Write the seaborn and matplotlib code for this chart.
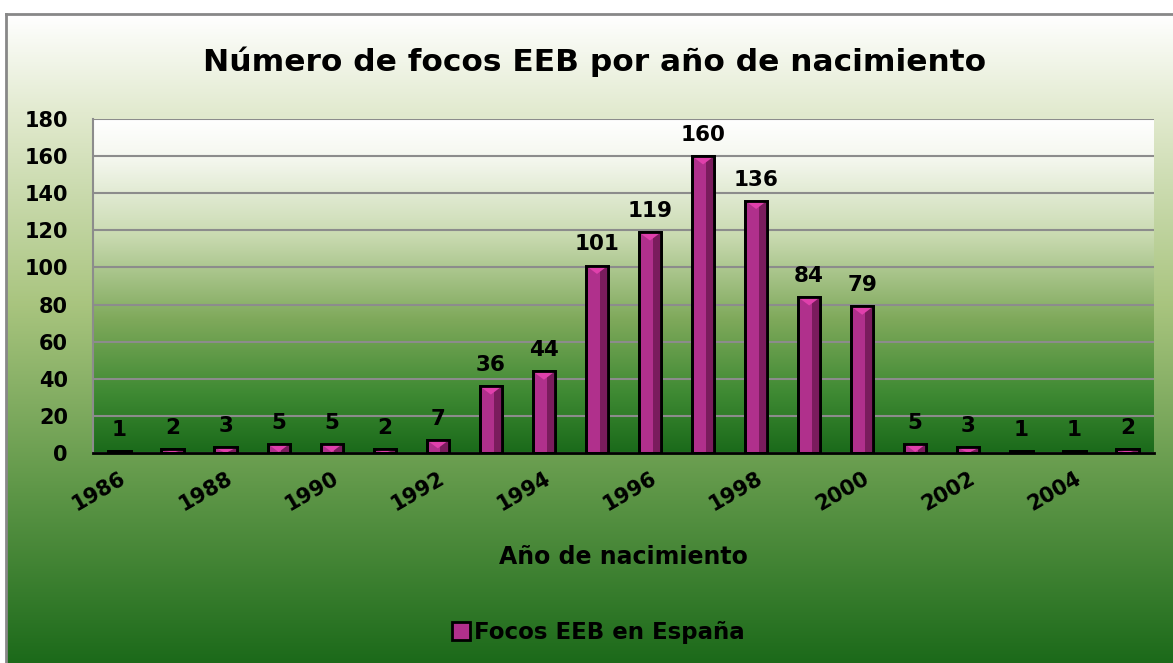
import numpy as np
import matplotlib
matplotlib.use("Agg")
import matplotlib.pyplot as plt
import seaborn as sns
from matplotlib.colors import LinearSegmentedColormap
from matplotlib.patches import Rectangle, Polygon
from matplotlib.lines import Line2D

years = [str(y) for y in range(1986, 2006)]
focos = [1, 2, 3, 5, 5, 2, 7, 36, 44, 101, 119, 160, 136, 84, 79, 5, 3, 1, 1, 2]
label_years = years[::2]

title = "Número de focos EEB por año de nacimiento"
xlabel = "Año de nacimiento"
serie = "Focos EEB en España"

sns.set_style("white")
plt.rcParams['font.family'] = ['DejaVu Sans']
plt.rcParams['font.weight'] = 'bold'
plt.rcParams['text.color'] = 'black'
plt.rcParams['xtick.color'] = 'black'
plt.rcParams['ytick.color'] = 'black'
plt.rcParams['axes.labelcolor'] = 'black'

W, H = 1173, 663
fig = plt.figure(figsize=(W / 100, H / 100), dpi=100)

# fondo del grafico con degradado
bg_cmap = LinearSegmentedColormap.from_list(
    "bg", [(0, "#ffffff"), (0.15, "#e2eacf"), (0.45, "#a8c47e"),
           (0.72, "#62994a"), (1, "#1c6a1a")])
bg = fig.add_axes([6 / W, 0, 1 - 6 / W, 1 - 14 / H], zorder=0)
bg.imshow(np.linspace(0, 1, 256).reshape(-1, 1), aspect='auto', cmap=bg_cmap,
          extent=[0, 1, 0, 1])
bg.set_xticks([])
bg.set_yticks([])
for s in ['right', 'bottom']:
    bg.spines[s].set_visible(False)
for s in ['top', 'left']:
    bg.spines[s].set_color('#888888')
    bg.spines[s].set_linewidth(2)

ax = fig.add_axes([93 / W, 1 - 453 / H, 1061 / W, 334 / H], zorder=1)
ax.patch.set_alpha(0)

pa_cmap = LinearSegmentedColormap.from_list(
    "pa", [(0, "#ffffff"), (0.12, "#f4f7ee"), (0.35, "#c9dab0"),
           (0.6, "#7fa95b"), (0.82, "#3f8a33"), (1, "#1a6a1a")])
ax.imshow(np.linspace(0, 1, 256).reshape(-1, 1), aspect='auto', cmap=pa_cmap,
          extent=[-0.5, 19.5, 0, 180], zorder=0)

ax.yaxis.grid(True, color='#8c8c8c', linewidth=1.5, zorder=1)
ax.set_axisbelow(True)

sns.barplot(x=years, y=focos, color="#b0308c", width=0.42, edgecolor='black',
            linewidth=2, saturation=1, ax=ax, zorder=3)

# efecto biselado en las barras
for p in list(ax.patches):
    x0, y0 = p.get_x(), p.get_y()
    w, h = p.get_width(), p.get_height()
    if h <= 0:
        continue
    ax.add_patch(Rectangle((x0 + w * 0.62, y0), w * 0.38, h,
                           facecolor="#7a1c5d", edgecolor='none', zorder=3.5))
    bh = min(h, 4.5)
    ax.add_patch(Polygon([(x0, y0 + h), (x0 + w, y0 + h), (x0 + w * 0.5, y0 + h - bh)],
                         facecolor="#e040ac", edgecolor='none', zorder=3.6))
    ax.add_patch(Rectangle((x0, y0), w, h, facecolor='none', edgecolor='black',
                           linewidth=2, zorder=3.7))

for i, v in enumerate(focos):
    ax.annotate(str(v), (i, v), xytext=(0, 8), textcoords='offset points',
                ha='center', va='bottom', fontsize=15.5, fontweight='bold')

ax.set_xlim(-0.5, 19.5)
ax.set_ylim(0, 180)
ax.set_yticks(range(0, 181, 20))
ax.tick_params(axis='y', length=6, width=1.5, color='#8c8c8c', labelcolor='black',
               labelsize=15, pad=12)
for t in ax.get_yticklabels():
    t.set_fontweight('bold')

ax.set_xticks(np.arange(-0.5, 20, 1))
ax.set_xticklabels([])
ax.tick_params(axis='x', which='major', length=8, width=1.5, color='black', direction='out')
ax.set_xticks(range(0, 20, 2), minor=True)
ax.set_xticklabels(label_years, minor=True, rotation=30, ha='right',
                   rotation_mode='anchor', fontsize=15, fontweight='bold')
ax.tick_params(axis='x', which='minor', length=0, pad=11, labelcolor='black')
ax.set_xlabel("")
ax.set_ylabel("")

for s in ['top', 'right']:
    ax.spines[s].set_visible(False)
ax.spines['left'].set_color('#8c8c8c')
ax.spines['left'].set_linewidth(1.5)
ax.spines['bottom'].set_color('black')
ax.spines['bottom'].set_linewidth(2)
ax.spines['bottom'].set_zorder(4)

fig.text(595 / W, 1 - 62 / H, title, ha='center', va='center',
         fontsize=22.5, fontweight='bold', color='black')
fig.text(623 / W, 1 - 557 / H, xlabel, ha='center', va='center',
         fontsize=17, fontweight='bold', color='black')

handle = Line2D([], [], marker='s', linestyle='none', markersize=13,
                markerfacecolor="#b0308c", markeredgecolor='black', markeredgewidth=2)
leg = fig.legend([handle], [serie], loc='center', bbox_to_anchor=(597 / W, 1 - 633 / H),
                 frameon=False, prop={'size': 16.5, 'weight': 'bold'},
                 handletextpad=0.1, handlelength=1.0)
for t in leg.get_texts():
    t.set_color('black')

fig.savefig("out.png", dpi=100)
